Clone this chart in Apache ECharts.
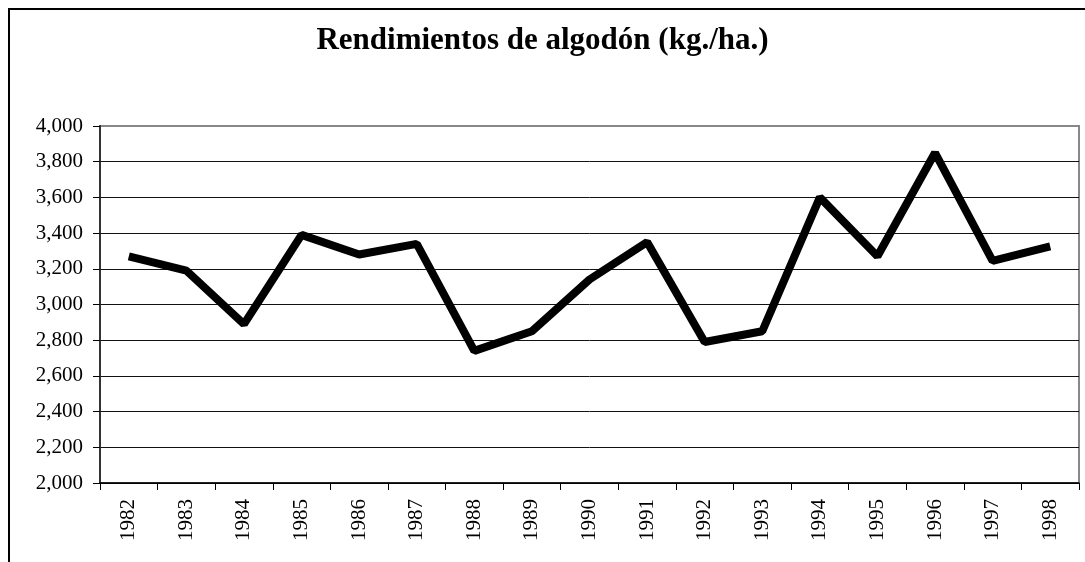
<!DOCTYPE html>
<html>
<head>
<meta charset="utf-8">
<script src="https://cdn.jsdelivr.net/npm/echarts@6/dist/echarts.min.js"></script>
<style>
  html, body { margin: 0; padding: 0; background: #fff; }
  #main { width: 1085px; height: 562px; }
</style>
</head>
<body>
<div id="main"></div>
<script>
// datos
var years = ['1982', '1983', '1984', '1985', '1986', '1987', '1988', '1989', '1990',
             '1991', '1992', '1993', '1994', '1995', '1996', '1997', '1998'];
var rendimientos = [3270, 3190, 2890, 3390, 3280, 3340, 2740, 2850, 3140,
                    3350, 2790, 2850, 3600, 3270, 3850, 3245, 3325];
var yMin = 2000;
var yMax = 4000;
var yStep = 200;

var chart = echarts.init(document.getElementById('main'));

// color de cada linea de division, la de arriba gris como el borde
var gridColors = [];
for (var v = yMin; v <= yMax; v += yStep) {
  gridColors.push(v === yMax ? '#888' : '#111');
}

var option = {
  backgroundColor: '#fff',
  animation: false,
  title: {
    text: 'Rendimientos de algodón (kg./ha.)',
    left: 'center',
    top: 20,
    textStyle: {
      fontFamily: 'Liberation Serif',
      fontWeight: 'bold',
      fontSize: 31,
      color: '#000'
    }
  },
  graphic: [{
    type: 'rect',
    shape: { x: 9, y: 9, width: 1200, height: 700 },
    style: { fill: 'none', stroke: '#000', lineWidth: 2 },
    silent: true
  }],
  grid: {
    left: 100,
    right: 6,
    top: 126,
    bottom: 79,
    show: true,
    borderColor: '#888',
    borderWidth: 2
  },
  xAxis: {
    type: 'category',
    data: years,
    boundaryGap: true,
    axisLine: { lineStyle: { color: '#000', width: 1.5 } },
    axisTick: { show: true, length: 7, lineStyle: { color: '#000' } },
    axisLabel: {
      rotate: 90,
      margin: 16,
      fontFamily: 'Liberation Serif',
      fontSize: 21,
      color: '#000'
    },
    splitLine: { show: false }
  },
  yAxis: {
    type: 'value',
    min: yMin,
    max: yMax,
    interval: yStep,
    axisLine: { show: true, lineStyle: { color: '#333', width: 2 } },
    axisTick: { show: true, length: 7, lineStyle: { color: '#000' } },
    axisLabel: {
      margin: 17,
      fontFamily: 'Liberation Serif',
      fontSize: 21,
      color: '#000',
      formatter: function (val) {
        return val.toLocaleString('en-US');
      }
    },
    splitLine: { show: true, lineStyle: { color: gridColors, width: 1 } }
  },
  series: [{
    type: 'line',
    data: rendimientos,
    symbol: 'none',
    lineStyle: { color: '#000', width: 8 }
  }]
};

chart.setOption(option);
</script>
</body>
</html>
